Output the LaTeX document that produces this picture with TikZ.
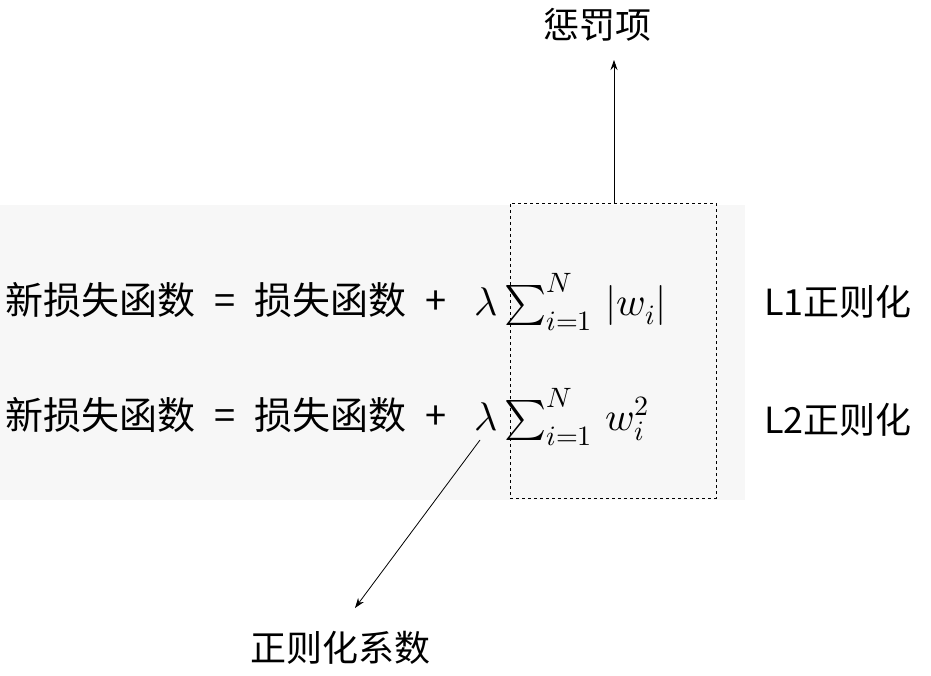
\documentclass[tikz,border=0pt]{standalone}
\usepackage{fontspec}
\setmainfont{Noto Sans CJK SC}
\usepackage{amsmath}
\usepackage{unicode-math}
\setmathfont{Latin Modern Math}
\usetikzlibrary{arrows.meta, positioning}
\begin{document}
\begin{tikzpicture}[
        x=1pt, y=-1pt,
        eq/.style={anchor=west, inner sep=0pt, font=\fontsize{38}{42}\selectfont},
        sum/.style={anchor=west, inner sep=0pt, font=\fontsize{40}{46}\selectfont},
        note/.style={inner sep=0pt, font=\fontsize{36}{40}\selectfont},
        line/.style={draw, -{Stealth[length=10pt,width=7pt]}, thick}
    ]
        \useasboundingbox (0,0) rectangle (931,676);
        \fill[black!3] (0,205) rectangle (745,500);
        % line 1
        \node [eq] (t1) at (5,300) {新损失函数 \;=\; 损失函数 \;+};
        \node [sum] (s1) at (474,302) {$\boldsymbol{\lambda}\sum_{i=1}^{N}\,|w_i|$};
        % line 2
        \node [eq] (t2) at (5,415) {新损失函数 \;=\; 损失函数 \;+};
        \node [sum] (s2) at (474,417) {$\boldsymbol{\lambda}\sum_{i=1}^{N}\,w_i^2$};
        \node [note] (l1) at (838,302) {L1正则化};
        \node [note] (l2) at (838,420) {L2正则化};
        \node [draw, dashed, minimum width=206pt, minimum height=295pt, inner sep=0pt] (pen) at (613,350.5) {};
        \node [note] (cf) at (597,25) {惩罚项};
        \node [note] (rc) at (340,648) {正则化系数};
        \coordinate (lam) at (480,440);
        \coordinate (up) at (614,60);

        \path [line] (pen.north -| up) -- (up);
        \path [line] (lam) -- (355,608);
    \end{tikzpicture}
\end{document}
